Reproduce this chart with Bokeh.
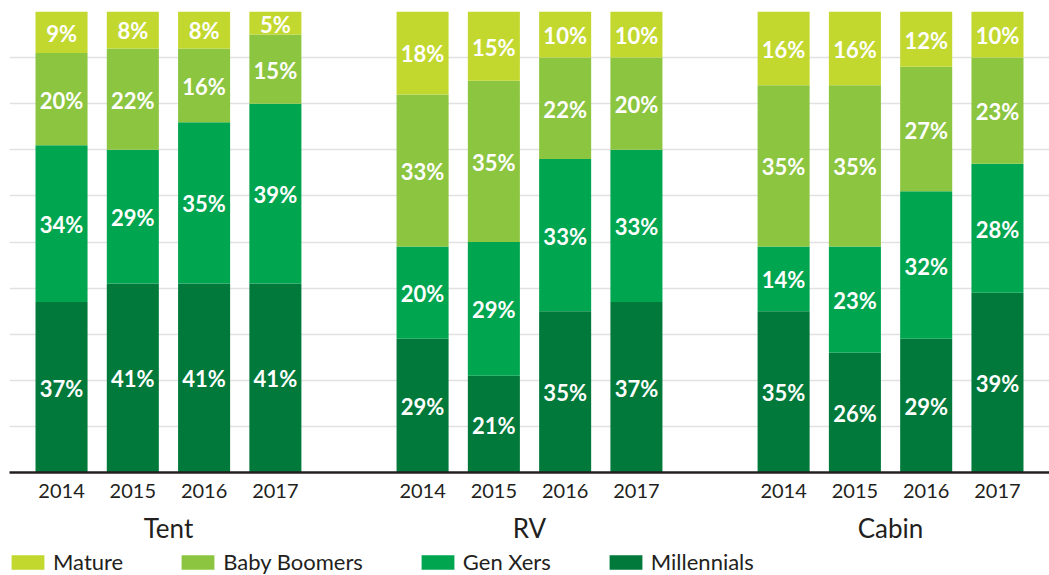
from bokeh.plotting import figure
from bokeh.layouts import column
from bokeh.models import ColumnDataSource, FactorRange, Legend, LegendItem, FixedTicker, Range1d
from bokeh.core.properties import value
from bokeh.embed import file_html
from bokeh.resources import INLINE

types = ["Tent", "RV", "Cabin"]
years = ["2014", "2015", "2016", "2017"]
series = ["Millennials", "Gen Xers", "Baby Boomers", "Mature"]
colors = ["#00793a", "#00a54f", "#8cc53f", "#c2d82e"]

millennials = [37, 41, 41, 41, 29, 21, 35, 37, 35, 26, 29, 39]
genx = [34, 29, 35, 39, 20, 29, 33, 33, 14, 23, 32, 28]
boomers = [20, 22, 16, 15, 33, 35, 22, 20, 35, 35, 27, 23]
mature = [9, 8, 8, 5, 18, 15, 10, 10, 16, 16, 12, 10]

x = [(t, y) for t in types for y in years]
data = {"x": x, "Millennials": millennials, "Gen Xers": genx,
        "Baby Boomers": boomers, "Mature": mature}
src = ColumnDataSource(data)

FONT = "Lato"
DARK = "#231f20"

p = figure(x_range=FactorRange(*x, factor_padding=0.0, group_padding=1.065,
                               range_padding=0.23, range_padding_units="absolute"),
           y_range=Range1d(0, 100),
           width=1049, height=548, output_backend="svg", toolbar_location=None,
           min_border_left=9, min_border_right=0, min_border_top=11, min_border_bottom=76)

rs = p.vbar_stack(series, x="x", width=0.73, color=colors, source=src, line_color=None)

# labels centred in each segment
lx, ly, lt = [], [], []
for i, xx in enumerate(x):
    base = 0
    for arr in (millennials, genx, boomers, mature):
        v = arr[i]
        lx.append(xx)
        ly.append(base + v / 2)
        lt.append(f"{v}%")
        base += v
p.text(x="x", y="y", text="t", source=ColumnDataSource(dict(x=lx, y=ly, t=lt)),
       text_color="white", text_font=value(FONT), text_font_style="bold",
       text_font_size="22px", text_align="center", text_baseline="middle",
       y_offset=1)

p.yaxis.visible = False
p.ygrid.ticker = FixedTicker(ticks=[10, 20, 30, 40, 50, 60, 70, 80, 90, 100])
p.ygrid.grid_line_color = "#e1e1e1"
p.ygrid.grid_line_width = 1.5
p.xgrid.grid_line_color = None
p.outline_line_color = None

ax = p.xaxis[0]
ax.axis_line_color = DARK
ax.axis_line_width = 2.5
ax.major_tick_line_color = None
ax.major_tick_out = 0
ax.major_tick_in = 0
ax.minor_tick_line_color = None
ax.major_label_text_font = FONT
ax.major_label_text_font_size = "20px"
ax.major_label_text_color = DARK
ax.major_label_standoff = 11
ax.group_text_font = FONT
ax.group_text_font_size = "26px"
ax.group_text_color = DARK
ax.group_text_font_style = "normal"
ax.separator_line_color = None

# legend strip underneath
p2 = figure(x_range=p.x_range, y_range=Range1d(1000, 1100),
            width=1049, height=27, output_backend="svg", toolbar_location=None,
            min_border_left=0, min_border_right=0, min_border_top=0, min_border_bottom=0)
p2.axis.visible = False
p2.grid.visible = False
p2.outline_line_color = None
rs2 = p2.vbar_stack(series, x="x", width=0.73, color=colors, source=src, line_color=None)

legend_order = [3, 2, 1, 0]
items = [LegendItem(label=series[i], renderers=[rs2[i]]) for i in legend_order]
legend = Legend(items=items, orientation="horizontal", location=(-2, 0),
                glyph_width=41, glyph_height=18, label_height=18,
                label_standoff=5, spacing=54,
                padding=0, margin=0, border_line_color=None,
                background_fill_alpha=0,
                label_text_font=FONT, label_text_font_size="22px",
                label_text_color=DARK)
p2.add_layout(legend, "center")

open("out.html", "w").write(file_html(column(p, p2, spacing=0), INLINE))
